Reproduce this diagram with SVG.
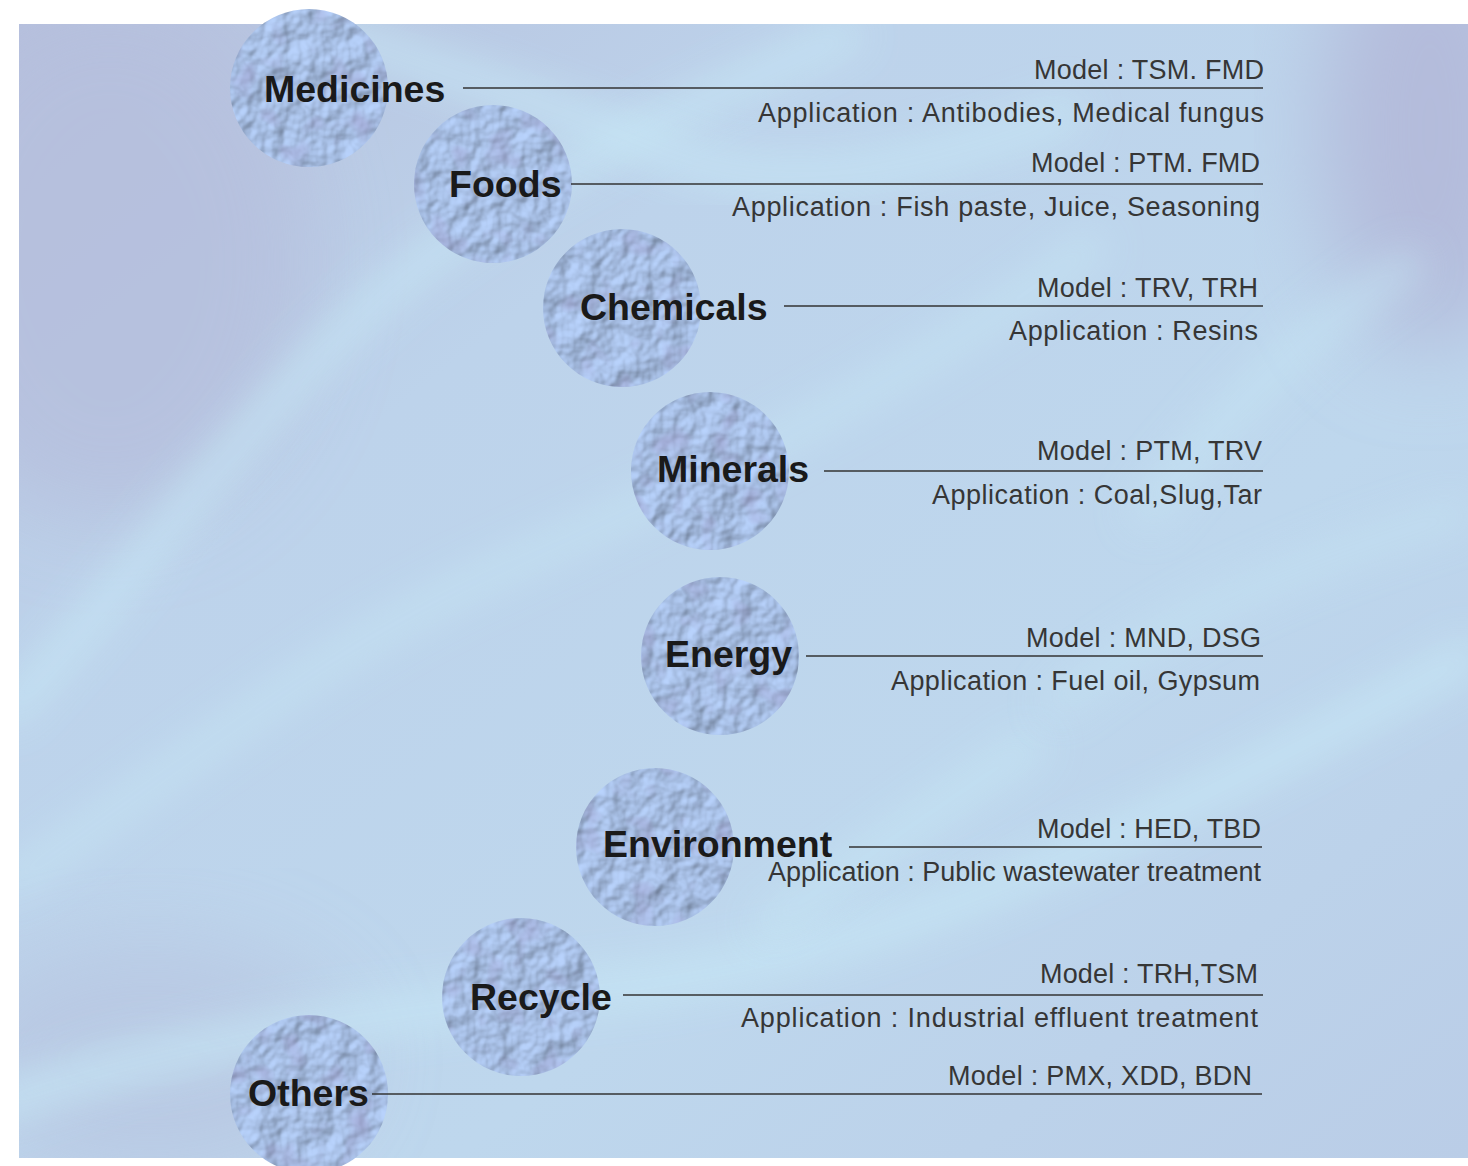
<svg xmlns="http://www.w3.org/2000/svg" width="1468" height="1166" viewBox="0 0 1468 1166">
<defs>
  <linearGradient id="bg" x1="0" y1="0" x2="1" y2="1">
    <stop offset="0" stop-color="#b6c0dd"/>
    <stop offset="0.3" stop-color="#bdd3eb"/>
    <stop offset="0.65" stop-color="#bed7ed"/>
    <stop offset="1" stop-color="#bacde7"/>
  </linearGradient>
  <filter id="soft" x="-20%" y="-20%" width="140%" height="140%">
    <feGaussianBlur stdDeviation="20"/>
  </filter>
  <filter id="soft2" x="-30%" y="-30%" width="160%" height="160%">
    <feGaussianBlur stdDeviation="45"/>
  </filter>
  <clipPath id="bgclip"><rect x="19" y="24" width="1449" height="1134"/></clipPath>
  <filter id="tex" x="0" y="0" width="100%" height="100%" color-interpolation-filters="sRGB">
    <feTurbulence type="fractalNoise" baseFrequency="0.04" numOctaves="3" seed="7" result="n"/>
    <feDiffuseLighting in="n" surfaceScale="5" diffuseConstant="1" lighting-color="#ffffff" result="l">
      <feDistantLight azimuth="225" elevation="55"/>
    </feDiffuseLighting>
    <feFlood flood-color="#a8c0e6" result="f"/>
    <feComposite in="l" in2="f" operator="arithmetic" k1="0.6" k2="0" k3="0.5" k4="0" result="m"/>
    <feTurbulence type="fractalNoise" baseFrequency="0.035" numOctaves="2" seed="11" result="t"/>
    <feColorMatrix in="t" type="matrix" values="0 0 0 0 0.62  0 0 0 0 0.62  0 0 0 0 0.8  0 0 0 1.6 -0.85" result="c"/>
    <feComposite in="c" in2="m" operator="over" result="mc"/>
    <feComposite in="mc" in2="SourceGraphic" operator="in"/>
  </filter>
</defs>
<style>
  .disc { fill: #a9bde2; filter: url(#tex); }
  .label { font-family: "Liberation Sans", Arial, sans-serif; font-weight: bold; font-size: 37.5px; fill: #1a1a1a; }
  .info { font-family: "Liberation Sans", Arial, sans-serif; font-size: 27px; fill: #363636; text-anchor: end; }
  .conn line { stroke: #333333; stroke-width: 1.6; }
  .streak { fill: none; stroke: #c6e6f5; filter: url(#soft); }
</style>

<g id="background">
  <rect x="19" y="24" width="1449" height="1134" fill="url(#bg)"/>
  <g clip-path="url(#bgclip)">
    <ellipse cx="1430" cy="130" rx="110" ry="220" fill="#b4bcdb" filter="url(#soft2)"/>
    <ellipse cx="110" cy="260" rx="200" ry="260" fill="#b6bfdd" filter="url(#soft2)" opacity="0.8"/>
    <ellipse cx="150" cy="1060" rx="200" ry="120" fill="#b7c4e0" filter="url(#soft2)" opacity="0.7"/>
    <path class="streak" stroke-width="30" opacity="0.85" d="M0,720 C120,600 240,420 400,280 C540,170 700,100 860,30"/>
    <path class="streak" stroke-width="26" opacity="0.75" d="M0,890 C180,770 320,650 500,570 C700,480 900,390 1100,240"/>
    <path class="streak" stroke-width="36" opacity="0.85" d="M-20,1110 C200,1030 420,1010 640,985 C900,950 1150,830 1480,650"/>
    <path class="streak" stroke-width="28" opacity="0.8" d="M760,930 C850,870 930,810 1040,740"/>
    <path class="streak" stroke-width="34" opacity="0.8" d="M320,30 C440,70 540,100 660,150 C780,200 920,170 1080,110"/>
    <path class="streak" stroke-width="28" opacity="0.7" d="M1140,520 C1220,420 1300,330 1420,260"/>
    <path class="streak" stroke-width="22" opacity="0.7" d="M1050,710 C1150,630 1270,570 1470,510"/>
  </g>
</g>

<g id="medicines">
  <circle class="disc" cx="309" cy="88" r="79"/>
  <text class="label" x="264" y="101.5">Medicines</text>
  <text class="info" x="1264" y="78.5" textLength="230" lengthAdjust="spacing">Model : TSM. FMD</text>
  <text class="info" x="1264" y="121.5" textLength="506" lengthAdjust="spacing">Application : Antibodies, Medical fungus</text>
</g>

<g id="foods">
  <circle class="disc" cx="493" cy="184" r="79"/>
  <text class="label" x="449" y="197">Foods</text>
  <text class="info" x="1260" y="172" textLength="229" lengthAdjust="spacing">Model : PTM. FMD</text>
  <text class="info" x="1260" y="215.5" textLength="528" lengthAdjust="spacing">Application : Fish paste, Juice, Seasoning</text>
</g>

<g id="chemicals">
  <circle class="disc" cx="622" cy="308" r="79"/>
  <text class="label" x="580" y="320">Chemicals</text>
  <text class="info" x="1258" y="296.5" textLength="221" lengthAdjust="spacing">Model : TRV, TRH</text>
  <text class="info" x="1258" y="339.5" textLength="249" lengthAdjust="spacing">Application : Resins</text>
</g>

<g id="minerals">
  <circle class="disc" cx="710" cy="471" r="79"/>
  <text class="label" x="657" y="482">Minerals</text>
  <text class="info" x="1262" y="460" textLength="225" lengthAdjust="spacing">Model : PTM, TRV</text>
  <text class="info" x="1262" y="503.5" textLength="330" lengthAdjust="spacing">Application : Coal,Slug,Tar</text>
</g>

<g id="energy">
  <circle class="disc" cx="720" cy="656" r="79"/>
  <text class="label" x="665" y="667">Energy</text>
  <text class="info" x="1261" y="646.5" textLength="235" lengthAdjust="spacing">Model : MND, DSG</text>
  <text class="info" x="1260" y="689.5" textLength="369" lengthAdjust="spacing">Application : Fuel oil, Gypsum</text>
</g>

<g id="environment">
  <circle class="disc" cx="655" cy="847" r="79"/>
  <text class="label" x="603" y="857">Environment</text>
  <text class="info" x="1261" y="837.5" textLength="224" lengthAdjust="spacing">Model : HED, TBD</text>
  <text class="info" x="1261" y="881" textLength="493" lengthAdjust="spacing">Application  : Public wastewater treatment</text>
</g>

<g id="recycle">
  <circle class="disc" cx="521" cy="997" r="79"/>
  <text class="label" x="470" y="1010">Recycle</text>
  <text class="info" x="1258" y="982.5" textLength="218" lengthAdjust="spacing">Model : TRH,TSM</text>
  <text class="info" x="1258" y="1026.5" textLength="517" lengthAdjust="spacing">Application : Industrial effluent treatment</text>
</g>

<g id="others">
  <circle class="disc" cx="309" cy="1094" r="79"/>
  <text class="label" x="248" y="1106">Others</text>
  <text class="info" x="1252" y="1084.5" textLength="304" lengthAdjust="spacing">Model : PMX, XDD, BDN</text>
</g>

<g id="connectors" class="conn">
  <line x1="463" y1="88" x2="1263" y2="88"/>
  <line x1="571" y1="184" x2="1263" y2="184"/>
  <line x1="784" y1="306" x2="1263" y2="306"/>
  <line x1="824" y1="471" x2="1263" y2="471"/>
  <line x1="806" y1="656" x2="1263" y2="656"/>
  <line x1="849" y1="847" x2="1262" y2="847"/>
  <line x1="623" y1="995" x2="1263" y2="995"/>
  <line x1="372" y1="1094" x2="1262" y2="1094"/>
</g>
</svg>
